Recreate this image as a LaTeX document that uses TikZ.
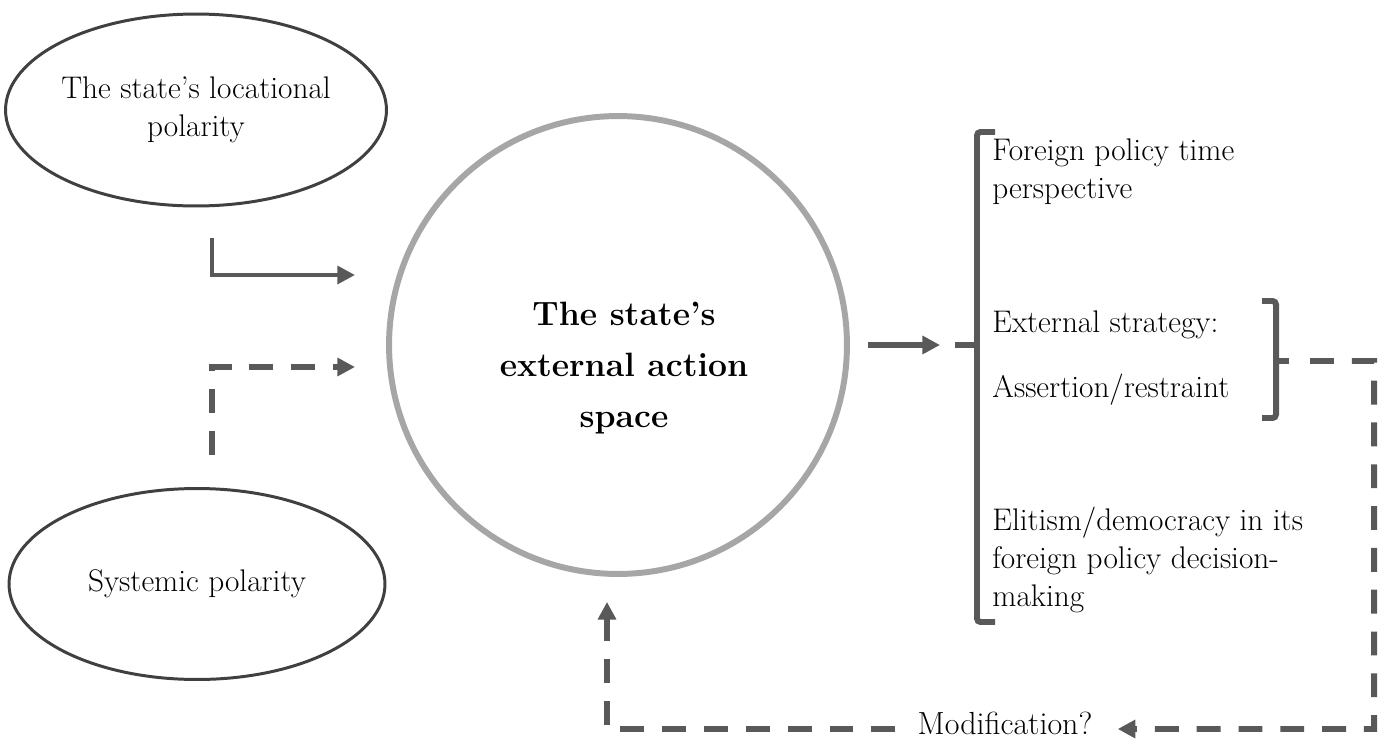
\documentclass[tikz,border=0pt]{standalone}
\usepackage{fontspec}
\usetikzlibrary{shapes.geometric,arrows.meta,calc}

\definecolor{ovalline}{HTML}{404040}
\definecolor{ringgray}{HTML}{A6A6A6}
\definecolor{linkgray}{HTML}{595959}

\begin{document}
\begin{tikzpicture}[x=0.02cm,y=-0.02cm,
  oval/.style={draw=ovalline,line width=1.7pt,ellipse,inner sep=0pt,
    align=center,font=\fontsize{17.8}{21.5}\selectfont},
  ring/.style={draw=ringgray,line width=3.4pt,circle,minimum size=9.16cm,inner sep=0pt},
  ringtext/.style={align=center,inner sep=0pt,font=\fontsize{19.2}{29}\selectfont\bfseries},
  rtext/.style={anchor=west,align=left,inner sep=0pt,
    font=\fontsize{17.8}{21.5}\selectfont},
  brace/.style={draw=linkgray,line width=3.4pt,rounded corners=2pt},
  link/.style={draw=linkgray,line width=2.8pt,-{Triangle[length=10pt,width=10pt]}},
  dlink/.style={link,line width=3.4pt,dash pattern=on 13.6pt off 10.2pt}
]
\useasboundingbox (0,0) rectangle (1386,744);

% inputs
\node[oval,minimum width=7.58cm,minimum height=3.84cm] (loc) at (196,110)
  {The state’s locational\\polarity};
\node[oval,minimum width=7.52cm,minimum height=3.82cm] (sys) at (197,584)
  {Systemic polarity};

% central space
\node[ring] (space) at (618,345) {};
\node[ringtext] (spacetext) at (624,368) {The state’s\\external action\\space};

% outcomes
\node[rtext] (time) at (992,172) {Foreign policy time\\perspective};
\node[rtext] (strat) at (992,358) {External strategy:\\[16pt]Assertion/restraint};
\node[rtext] (elite) at (992,560)
  {Elitism/democracy in its\\foreign policy decision-\\making};
\node[inner sep=0pt,font=\fontsize{18.2}{21.5}\selectfont] (mod) at (1005,723)
  {Modification?};

% brackets
\draw[brace] (995,132) -| (977,622) -- (995,622);
\draw[brace] (977,345) -- (955,345);
\coordinate (bignotch) at (955,345);
\draw[brace] (1262,301) -| (1276,418) -- (1262,418);
\draw[brace] (1276,361) -- (1289,361);
\coordinate (smallnotch) at (1289,361);

% arrows
\coordinate (locfoot) at (212,238);
\coordinate (locend) at (355,275);
\coordinate (sysfoot) at (212,455);
\coordinate (sysend) at (355,367);
\coordinate (turn) at (1374,729);
\draw[link] (locfoot) |- (locend);
\draw[dlink] (sysfoot) |- (sysend);
\draw[link,line width=3.4pt] ([xshift=0.36cm]space.east) -- ([xshift=-0.3cm]bignotch);
\draw[dlink] ([xshift=0.42cm]smallnotch) -| (turn) -- ([xshift=0.5cm,yshift=-0.12cm]mod.east);
\draw[dlink] ([xshift=-0.44cm,yshift=-0.12cm]mod.west) -| ([xshift=-0.22cm,yshift=-0.5cm]space.south);
\end{tikzpicture}
\end{document}
